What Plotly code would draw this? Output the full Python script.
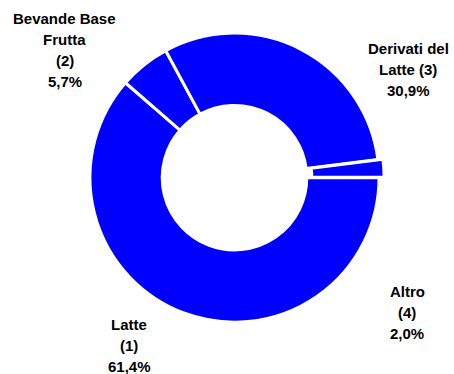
import plotly.graph_objects as go

labels = ["Latte", "Bevande Base Frutta", "Derivati del Latte", "Altro"]
label_lines = [["Latte", "(1)"], ["Bevande Base", "Frutta", "(2)"], ["Derivati del", "Latte (3)"], ["Altro", "(4)"]]
values = [61.4, 5.7, 30.9, 2.0]
pulls = [0, 0, 0, 0.035]

# label anchor positions (pixels): center x, first-line y
label_px_x = [129, 64.5, 408, 407]
label_px_y = [323.5, 18, 48.5, 291]
line_step = 21

W, H = 454, 374

fig = go.Figure()
fig.add_trace(go.Pie(
    labels=labels,
    values=values,
    hole=0.5,
    sort=False,
    direction="clockwise",
    rotation=90,
    pull=pulls,
    textinfo="none",
    hoverinfo="label+percent",
    marker=dict(colors=["#0000ff"] * 4, line=dict(color="white", width=3)),
    domain=dict(x=[0.187, 0.846], y=[0.125, 0.925]),
    showlegend=False,
))

for lx, ly, lines, v in zip(label_px_x, label_px_y, label_lines, values):
    pct = f"{v:.1f}".replace(".", ",") + "%"
    for i, t in enumerate(lines + [pct]):
        fig.add_annotation(
            x=lx / W, y=1 - (ly + i * line_step + 0.5) / H, xref="paper", yref="paper",
            text=f"<b>{t}</b>",
            showarrow=False, align="center",
            xanchor="center", yanchor="middle",
            font=dict(family="Liberation Sans, Arial", size=15, color="black"),
        )

fig.update_layout(
    width=W, height=H,
    margin=dict(l=0, r=0, t=0, b=0),
    paper_bgcolor="white", plot_bgcolor="white",
)
fig.write_html("out.html")
